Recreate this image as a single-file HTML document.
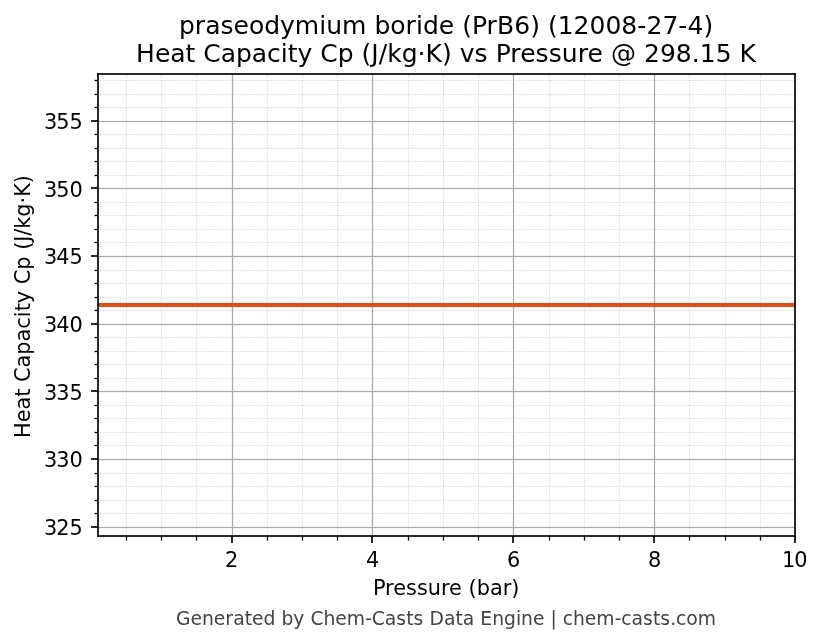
<!DOCTYPE html>
<html lang="en"><head><meta charset="utf-8">
<title>praseodymium boride (PrB6) (12008-27-4) – Heat Capacity Cp vs Pressure</title>
<style>
html,body{margin:0;padding:0;background:#fff;}
body{width:823px;height:644px;overflow:hidden;}
svg{display:block;}
text{font-family:"DejaVu Sans","Liberation Sans",sans-serif;fill:#000;}
.t{font-size:25px;}
.k{font-size:20.875px;}
.f{font-size:18.75px;fill:#444;}
.mn{stroke:#ccc;stroke-width:0.945;stroke-dasharray:0.944 1.558;fill:none;}
.mj rect{fill:#aaa;}
.mj .h,.tm .h{fill-opacity:0.129;}
.sp rect,.tk rect{fill:#000;fill-opacity:0.8353;}
.tm rect{fill:#000;}
</style></head><body>
<svg width="823" height="644" viewBox="0 0 823 644">
<rect width="823" height="644" fill="#fff"/>
<g class="mn">
<line x1="126.5" y1="75" x2="126.5" y2="535.4"/>
<line x1="161.5" y1="75" x2="161.5" y2="535.4"/>
<line x1="196.5" y1="75" x2="196.5" y2="535.4"/>
<line x1="267.5" y1="75" x2="267.5" y2="535.4"/>
<line x1="302.5" y1="75" x2="302.5" y2="535.4"/>
<line x1="337.5" y1="75" x2="337.5" y2="535.4"/>
<line x1="408.5" y1="75" x2="408.5" y2="535.4"/>
<line x1="443.5" y1="75" x2="443.5" y2="535.4"/>
<line x1="478.5" y1="75" x2="478.5" y2="535.4"/>
<line x1="549.5" y1="75" x2="549.5" y2="535.4"/>
<line x1="584.5" y1="75" x2="584.5" y2="535.4"/>
<line x1="619.5" y1="75" x2="619.5" y2="535.4"/>
<line x1="689.5" y1="75" x2="689.5" y2="535.4"/>
<line x1="725.5" y1="75" x2="725.5" y2="535.4"/>
<line x1="760.5" y1="75" x2="760.5" y2="535.4"/>
<line x1="97.7" y1="80.5" x2="794.6" y2="80.5"/>
<line x1="97.7" y1="94.5" x2="794.6" y2="94.5"/>
<line x1="97.7" y1="107.5" x2="794.6" y2="107.5"/>
<line x1="97.7" y1="134.5" x2="794.6" y2="134.5"/>
<line x1="97.7" y1="148.5" x2="794.6" y2="148.5"/>
<line x1="97.7" y1="161.5" x2="794.6" y2="161.5"/>
<line x1="97.7" y1="175.5" x2="794.6" y2="175.5"/>
<line x1="97.7" y1="202.5" x2="794.6" y2="202.5"/>
<line x1="97.7" y1="215.5" x2="794.6" y2="215.5"/>
<line x1="97.7" y1="229.5" x2="794.6" y2="229.5"/>
<line x1="97.7" y1="242.5" x2="794.6" y2="242.5"/>
<line x1="97.7" y1="270.5" x2="794.6" y2="270.5"/>
<line x1="97.7" y1="283.5" x2="794.6" y2="283.5"/>
<line x1="97.7" y1="297.5" x2="794.6" y2="297.5"/>
<line x1="97.7" y1="310.5" x2="794.6" y2="310.5"/>
<line x1="97.7" y1="337.5" x2="794.6" y2="337.5"/>
<line x1="97.7" y1="351.5" x2="794.6" y2="351.5"/>
<line x1="97.7" y1="364.5" x2="794.6" y2="364.5"/>
<line x1="97.7" y1="378.5" x2="794.6" y2="378.5"/>
<line x1="97.7" y1="405.5" x2="794.6" y2="405.5"/>
<line x1="97.7" y1="418.5" x2="794.6" y2="418.5"/>
<line x1="97.7" y1="432.5" x2="794.6" y2="432.5"/>
<line x1="97.7" y1="445.5" x2="794.6" y2="445.5"/>
<line x1="97.7" y1="473.5" x2="794.6" y2="473.5"/>
<line x1="97.7" y1="486.5" x2="794.6" y2="486.5"/>
<line x1="97.7" y1="500.5" x2="794.6" y2="500.5"/>
<line x1="97.7" y1="513.5" x2="794.6" y2="513.5"/>
</g>
<g class="mj">
<rect class="h" x="231" y="75" width="3" height="460"/><rect x="232" y="75" width="1" height="460"/>
<rect class="h" x="371" y="75" width="3" height="460"/><rect x="372" y="75" width="1" height="460"/>
<rect class="h" x="512" y="75" width="3" height="460"/><rect x="513" y="75" width="1" height="460"/>
<rect class="h" x="653" y="75" width="3" height="460"/><rect x="654" y="75" width="1" height="460"/>
<rect class="h" x="794" y="75" width="1" height="460"/>
<rect class="h" x="99" y="120" width="695" height="3"/><rect x="99" y="121" width="695" height="1"/>
<rect class="h" x="99" y="187" width="695" height="3"/><rect x="99" y="188" width="695" height="1"/>
<rect class="h" x="99" y="255" width="695" height="3"/><rect x="99" y="256" width="695" height="1"/>
<rect class="h" x="99" y="323" width="695" height="3"/><rect x="99" y="324" width="695" height="1"/>
<rect class="h" x="99" y="390" width="695" height="3"/><rect x="99" y="391" width="695" height="1"/>
<rect class="h" x="99" y="458" width="695" height="3"/><rect x="99" y="459" width="695" height="1"/>
<rect class="h" x="99" y="526" width="695" height="3"/><rect x="99" y="527" width="695" height="1"/>
</g>
<rect x="98" y="302.917" width="697" height="4.166" fill="#d95319"/>
<g class="tm">
<rect class="h" x="94.5" y="79" width="4" height="3"/><rect x="94.5" y="80" width="4" height="1"/>
<rect class="h" x="94.5" y="93" width="4" height="3"/><rect x="94.5" y="94" width="4" height="1"/>
<rect class="h" x="94.5" y="106" width="4" height="3"/><rect x="94.5" y="107" width="4" height="1"/>
<rect class="h" x="94.5" y="133" width="4" height="3"/><rect x="94.5" y="134" width="4" height="1"/>
<rect class="h" x="94.5" y="147" width="4" height="3"/><rect x="94.5" y="148" width="4" height="1"/>
<rect class="h" x="94.5" y="160" width="4" height="3"/><rect x="94.5" y="161" width="4" height="1"/>
<rect class="h" x="94.5" y="174" width="4" height="3"/><rect x="94.5" y="175" width="4" height="1"/>
<rect class="h" x="94.5" y="201" width="4" height="3"/><rect x="94.5" y="202" width="4" height="1"/>
<rect class="h" x="94.5" y="214" width="4" height="3"/><rect x="94.5" y="215" width="4" height="1"/>
<rect class="h" x="94.5" y="228" width="4" height="3"/><rect x="94.5" y="229" width="4" height="1"/>
<rect class="h" x="94.5" y="241" width="4" height="3"/><rect x="94.5" y="242" width="4" height="1"/>
<rect class="h" x="94.5" y="269" width="4" height="3"/><rect x="94.5" y="270" width="4" height="1"/>
<rect class="h" x="94.5" y="282" width="4" height="3"/><rect x="94.5" y="283" width="4" height="1"/>
<rect class="h" x="94.5" y="296" width="4" height="3"/><rect x="94.5" y="297" width="4" height="1"/>
<rect class="h" x="94.5" y="309" width="4" height="3"/><rect x="94.5" y="310" width="4" height="1"/>
<rect class="h" x="94.5" y="336" width="4" height="3"/><rect x="94.5" y="337" width="4" height="1"/>
<rect class="h" x="94.5" y="350" width="4" height="3"/><rect x="94.5" y="351" width="4" height="1"/>
<rect class="h" x="94.5" y="363" width="4" height="3"/><rect x="94.5" y="364" width="4" height="1"/>
<rect class="h" x="94.5" y="377" width="4" height="3"/><rect x="94.5" y="378" width="4" height="1"/>
<rect class="h" x="94.5" y="404" width="4" height="3"/><rect x="94.5" y="405" width="4" height="1"/>
<rect class="h" x="94.5" y="417" width="4" height="3"/><rect x="94.5" y="418" width="4" height="1"/>
<rect class="h" x="94.5" y="431" width="4" height="3"/><rect x="94.5" y="432" width="4" height="1"/>
<rect class="h" x="94.5" y="444" width="4" height="3"/><rect x="94.5" y="445" width="4" height="1"/>
<rect class="h" x="94.5" y="472" width="4" height="3"/><rect x="94.5" y="473" width="4" height="1"/>
<rect class="h" x="94.5" y="485" width="4" height="3"/><rect x="94.5" y="486" width="4" height="1"/>
<rect class="h" x="94.5" y="499" width="4" height="3"/><rect x="94.5" y="500" width="4" height="1"/>
<rect class="h" x="94.5" y="512" width="4" height="3"/><rect x="94.5" y="513" width="4" height="1"/>
<rect class="h" x="125" y="536.5" width="3" height="4"/><rect x="126" y="536.5" width="1" height="4"/>
<rect class="h" x="160" y="536.5" width="3" height="4"/><rect x="161" y="536.5" width="1" height="4"/>
<rect class="h" x="195" y="536.5" width="3" height="4"/><rect x="196" y="536.5" width="1" height="4"/>
<rect class="h" x="266" y="536.5" width="3" height="4"/><rect x="267" y="536.5" width="1" height="4"/>
<rect class="h" x="301" y="536.5" width="3" height="4"/><rect x="302" y="536.5" width="1" height="4"/>
<rect class="h" x="336" y="536.5" width="3" height="4"/><rect x="337" y="536.5" width="1" height="4"/>
<rect class="h" x="407" y="536.5" width="3" height="4"/><rect x="408" y="536.5" width="1" height="4"/>
<rect class="h" x="442" y="536.5" width="3" height="4"/><rect x="443" y="536.5" width="1" height="4"/>
<rect class="h" x="477" y="536.5" width="3" height="4"/><rect x="478" y="536.5" width="1" height="4"/>
<rect class="h" x="548" y="536.5" width="3" height="4"/><rect x="549" y="536.5" width="1" height="4"/>
<rect class="h" x="583" y="536.5" width="3" height="4"/><rect x="584" y="536.5" width="1" height="4"/>
<rect class="h" x="618" y="536.5" width="3" height="4"/><rect x="619" y="536.5" width="1" height="4"/>
<rect class="h" x="688" y="536.5" width="3" height="4"/><rect x="689" y="536.5" width="1" height="4"/>
<rect class="h" x="724" y="536.5" width="3" height="4"/><rect x="725" y="536.5" width="1" height="4"/>
<rect class="h" x="759" y="536.5" width="3" height="4"/><rect x="760" y="536.5" width="1" height="4"/>
</g>
<g class="tk">
<rect x="91" y="120" width="7" height="2"/>
<rect x="91" y="187" width="7" height="2"/>
<rect x="91" y="255" width="7" height="2"/>
<rect x="91" y="323" width="7" height="2"/>
<rect x="91" y="390" width="7" height="2"/>
<rect x="91" y="458" width="7" height="2"/>
<rect x="91" y="526" width="7" height="2"/>
<rect x="231" y="536" width="2" height="7"/>
<rect x="371" y="536" width="2" height="7"/>
<rect x="512" y="536" width="2" height="7"/>
<rect x="653" y="536" width="2" height="7"/>
<rect x="794" y="536" width="2" height="7"/>
</g>
<g class="sp">
<rect x="97" y="73" width="2" height="464"/>
<rect x="794" y="73" width="2" height="464"/>
<rect x="97" y="73" width="699" height="2"/>
<rect x="97" y="535" width="699" height="2"/>
</g>
<text class="t" x="178.95 194.83 205.2 220.45 233.58 248.95 264.2 280.08 294.83 319.2 326.2 342.08 366.45 374.45 390.33 405.58 415.95 422.95 438.83 454.2 462.2 471.95 486.58 496.95 514.2 530.2 539.95 547.95 557.7 573.58 589.58 605.45 621.33 637.33 646.45 662.45 678.33 687.45 703.45" y="34">praseodymium boride (PrB6) (12008-27-4)</text>
<text class="t" x="136.09 154.97 170.34 185.59 195.34 203.34 220.72 235.97 251.84 267.09 280.84 287.84 297.59 312.34 320.34 337.72 353.59 361.59 371.34 378.84 387.22 401.72 417.59 425.59 442.09 451.84 459.84 474.59 487.72 495.72 510.34 520.22 535.59 548.72 561.84 577.72 587.59 602.97 610.97 635.97 643.97 659.97 675.84 691.84 699.84 715.72 731.47 739.47" y="62">Heat Capacity Cp (J/kg·K) vs Pressure @ 298.15 K</text>
<g class="k">
<text x="43.92 56.17 69.42" y="129">355</text>
<text x="43.88 56.13 69.38" y="197">350</text>
<text x="43.88 56.13 69.38" y="264">345</text>
<text x="43.94 56.19 69.44" y="332">340</text>
<text x="43.97 56.22 69.47" y="400">335</text>
<text x="43.93 56.18 69.43" y="467">330</text>
<text x="43.99 56.24 69.49" y="535">325</text>
<text x="224.92" y="567">2</text>
<text x="365.89" y="567">4</text>
<text x="506.91" y="567">6</text>
<text x="647.93" y="567">8</text>
<text x="781.91 794.16" y="567">10</text>
<text x="372.9 385.03 393.15 406.03 416.9 427.78 440.9 449.03 461.9 468.53 476.65 489.9 502.65 511.28" y="595">Pressure (bar)</text>
<g transform="translate(30 306.47) rotate(-90)"><text x="-131.44 -115.81 -102.94 -90.19 -82.06 -75.44 -60.94 -48.19 -34.94 -22.19 -10.69 -4.81 3.31 15.69 22.31 36.81 50.06 56.69 64.81 70.81 77.81 89.81 103.06 109.69 123.31" y="0">Heat Capacity Cp (J/kg·K)</text></g>
</g>
<text class="f" x="175.91 190.41 201.91 213.79 225.29 233.16 244.66 252.04 263.54 275.41 281.41 293.29 304.41 310.41 323.41 335.29 346.79 365.16 371.79 384.79 396.29 406.16 413.54 423.41 429.41 443.91 455.41 462.79 474.29 480.29 492.16 504.04 515.91 521.04 532.91 544.41 550.41 556.66 562.66 572.91 584.79 596.29 614.66 621.29 631.54 643.04 652.91 660.29 670.16 676.04 686.29 697.66" y="625">Generated by Chem-Casts Data Engine | chem-casts.com</text>
</svg>
</body></html>
